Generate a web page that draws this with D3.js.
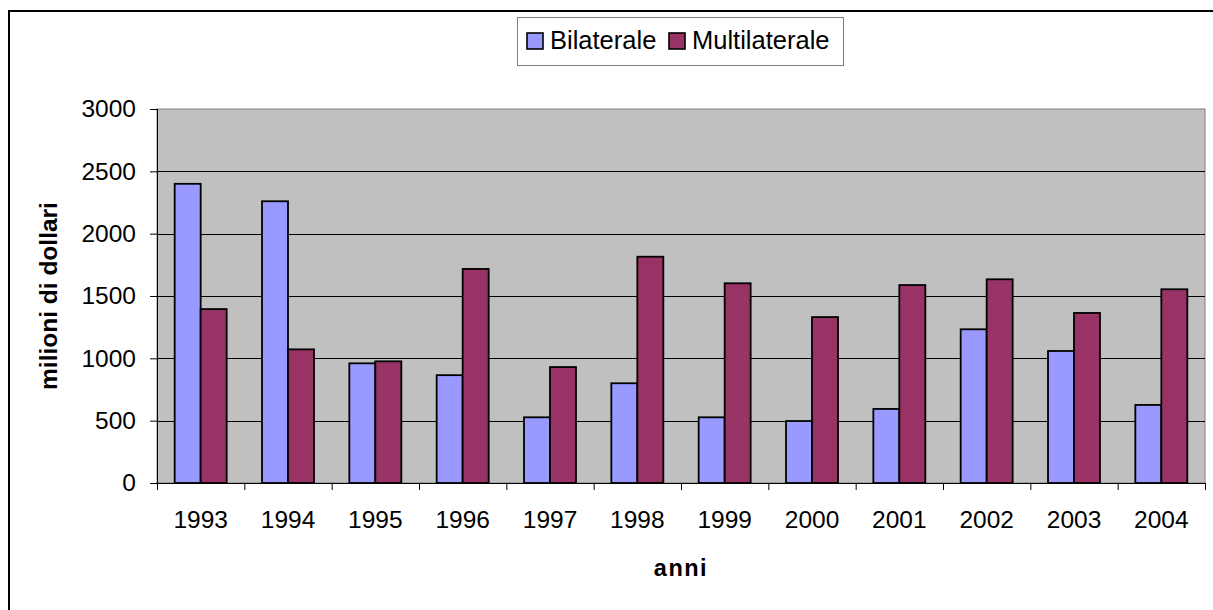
<!DOCTYPE html>
<html>
<head>
<meta charset="utf-8">
<script src="https://cdn.jsdelivr.net/npm/d3@7"></script>
<style>
  body { margin: 0; background: #fff; }
  svg { display: block; font-family: "Liberation Sans", Arial, sans-serif; }
</style>
</head>
<body>
<div id="chart"></div>
<script>
var years = ["1993", "1994", "1995", "1996", "1997", "1998", "1999", "2000", "2001", "2002", "2003", "2004"];
var seriesNames = ["Bilaterale", "Multilaterale"];
var bilaterale = [2400, 2260, 960, 865, 527, 800, 527, 497, 594, 1233, 1059, 626];
var multilaterale = [1395, 1072, 976, 1717, 930, 1815, 1602, 1331, 1588, 1634, 1364, 1554];
var yTicks = [0, 500, 1000, 1500, 2000, 2500, 3000];

var colors = { "Bilaterale": "#9999FF", "Multilaterale": "#993366" };

var svgWidth = 1213;
var svgHeight = 610;
var margin = { top: 109, right: 8, bottom: 127, left: 157 };
var width = svgWidth - margin.left - margin.right;
var height = svgHeight - margin.top - margin.bottom;

var svg = d3.select("#chart")
  .append("svg")
  .attr("width", svgWidth)
  .attr("height", svgHeight);

// outer frame
svg.append("rect")
  .attr("x", 9).attr("y", 11)
  .attr("width", svgWidth + 20).attr("height", svgHeight + 20)
  .attr("fill", "none")
  .attr("stroke", "#000")
  .attr("stroke-width", 2);

var chartGroup = svg.append("g")
  .attr("transform", `translate(${margin.left},${margin.top})`);

var x0 = d3.scaleBand().domain(years).range([0, width]);
var x1 = d3.scaleBand().domain(seriesNames).range([0, x0.bandwidth()])
  .paddingInner(0).paddingOuter(0.68);
var y = d3.scaleLinear().domain([0, 3000]).range([height, 0]);

// plot background
chartGroup.append("rect")
  .attr("width", width).attr("height", height)
  .attr("fill", "#C0C0C0")
  .attr("stroke", "#808080");

// gridlines
chartGroup.selectAll(".grid")
  .data(yTicks.filter(d => d > 0 && d < 3000))
  .enter()
  .append("line")
  .attr("x1", 0).attr("x2", width)
  .attr("y1", d => Math.round(y(d)) + 0.5)
  .attr("y2", d => Math.round(y(d)) + 0.5)
  .attr("stroke", "#000")
  .attr("stroke-width", 1);

var rows = years.map((yr, i) => ({ year: yr, values: [
  { key: "Bilaterale", value: bilaterale[i] },
  { key: "Multilaterale", value: multilaterale[i] }
] }));

var groups = chartGroup.selectAll(".year")
  .data(rows)
  .enter()
  .append("g")
  .attr("transform", d => `translate(${x0(d.year)},0)`);

groups.selectAll("rect")
  .data(d => d.values)
  .enter()
  .append("rect")
  .attr("x", d => x1(d.key))
  .attr("y", d => y(d.value))
  .attr("width", x1.bandwidth())
  .attr("height", d => height - y(d.value))
  .attr("fill", d => colors[d.key])
  .attr("stroke", "#000")
  .attr("stroke-width", 1.8);

// y axis
var leftAxis = d3.axisLeft(y).tickValues(yTicks).tickFormat(d3.format("d"))
  .tickSize(7).tickPadding(14);
var yAxisG = chartGroup.append("g").call(leftAxis);
yAxisG.select(".domain").attr("stroke", "#000").attr("d", `M0.5,0V${height}`);
yAxisG.selectAll("text").attr("font-size", 24.5).attr("fill", "#000")
  .attr("font-family", "'Liberation Sans', Arial, sans-serif");

// x axis: labels centred, ticks at category boundaries
var bottomAxis = d3.axisBottom(x0).tickSize(0).tickPadding(28);
var xAxisG = chartGroup.append("g")
  .attr("transform", `translate(0,${height})`)
  .call(bottomAxis);
xAxisG.select(".domain").remove();
xAxisG.selectAll("text").attr("font-size", 24.5).attr("fill", "#000")
  .attr("font-family", "'Liberation Sans', Arial, sans-serif");

chartGroup.append("line")
  .attr("x1", 0).attr("x2", width)
  .attr("y1", height + 0.5).attr("y2", height + 0.5)
  .attr("stroke", "#000");

chartGroup.selectAll(".xtick")
  .data(years.concat(["end"]))
  .enter()
  .append("line")
  .attr("x1", d => (d === "end" ? width : x0(d)) + 0.5)
  .attr("x2", d => (d === "end" ? width : x0(d)) + 0.5)
  .attr("y1", height).attr("y2", height + 7)
  .attr("stroke", "#000");

// axis titles
chartGroup.append("text")
  .attr("transform", "rotate(-90)")
  .attr("x", -height / 2)
  .attr("y", 57 - margin.left)
  .attr("text-anchor", "middle")
  .attr("font-size", 24.5)
  .attr("font-weight", "bold")
  .text("milioni di dollari");

chartGroup.append("text")
  .attr("x", width / 2)
  .attr("y", height + 93)
  .attr("text-anchor", "middle")
  .attr("font-size", 23.5)
  .attr("font-weight", "bold")
  .attr("letter-spacing", 1.5)
  .text("anni");

// legend
var legend = svg.append("g");
legend.append("rect")
  .attr("x", 517.5).attr("y", 17.5)
  .attr("width", 326).attr("height", 48)
  .attr("fill", "#fff")
  .attr("stroke", "#808080");

var legendX = [527, 669];
seriesNames.forEach((name, i) => {
  legend.append("rect")
    .attr("x", legendX[i]).attr("y", 33)
    .attr("width", 16).attr("height", 16)
    .attr("fill", colors[name])
    .attr("stroke", "#000")
    .attr("stroke-width", 1.6);
  legend.append("text")
    .attr("x", legendX[i] + 23)
    .attr("y", 49)
    .attr("font-size", 25.5)
    .text(name);
});
</script>
</body>
</html>
